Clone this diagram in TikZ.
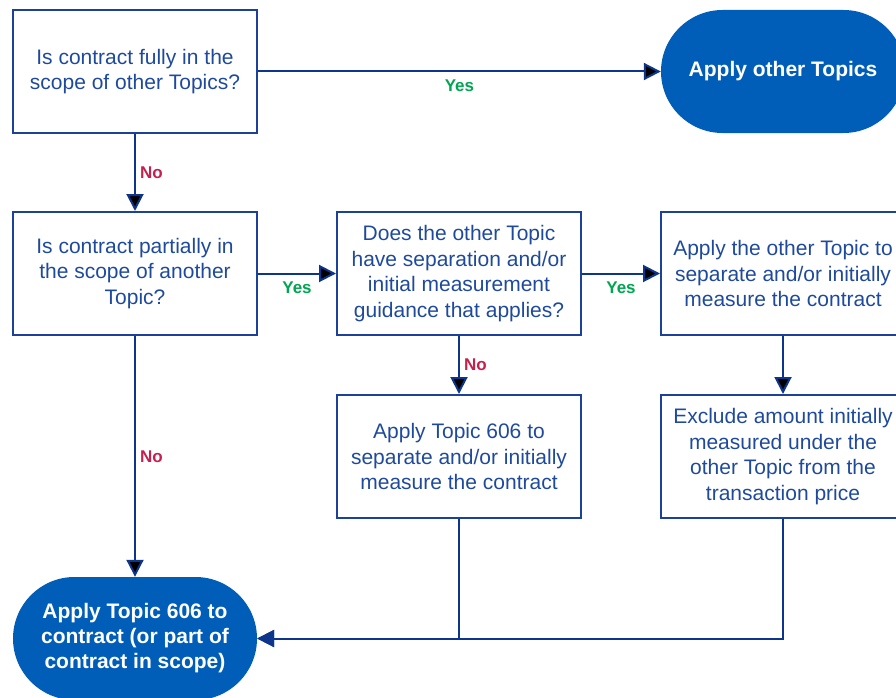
\documentclass[tikz,border=0pt]{standalone}
\usepackage{fontspec}
\setmainfont{Liberation Sans}
\usetikzlibrary{arrows.meta}
\usepackage{xcolor}
\definecolor{kblue}{HTML}{1B4198}
\definecolor{karrow}{HTML}{0E358C}
\definecolor{ktext}{HTML}{1F4A9C}
\definecolor{kfill}{HTML}{005EB8}
\definecolor{kyes}{HTML}{00A651}
\definecolor{kno}{HTML}{C4214E}

\tikzset{
  qbox/.style={draw=kblue, line width=2pt, text=ktext, minimum width=244pt, minimum height=123pt,
    inner sep=0pt, align=center, font=\fontsize{21}{25.5}\selectfont},
  endbox/.style={fill=kfill, rounded corners=61.5pt, text=white, minimum width=244pt, minimum height=123pt,
    inner sep=0pt, align=center, font=\fontsize{21}{25}\selectfont\bfseries},
  flow/.style={draw=karrow, line width=2pt, -{Triangle[length=17pt,width=17pt]}},
  yes/.style={text=kyes, font=\fontsize{17}{20}\selectfont\bfseries, inner sep=7pt},
  no/.style={text=kno, font=\fontsize{17}{20}\selectfont\bfseries, inner sep=4pt}
}

\begin{document}
\begin{tikzpicture}[x=1pt, y=-1pt]
        \useasboundingbox (0, 0) rectangle (896, 698);
        \clip (0, 0) rectangle (896, 698);
        \node[qbox] (fully) at (135, 71.5) {Is contract fully in the\\scope of other Topics?};
        \node[endbox] (other) at (783, 71.5) {Apply other Topics};
        \node[qbox] (partly) at (135, 273.5) {Is contract partially in\\the scope of another\\Topic?};
        \node[qbox] (guide) at (459, 273.5) {Does the other Topic\\have separation and/or\\initial measurement\\guidance that applies?};
        \node[qbox] (useother) at (783, 273.5) {Apply the other Topic to\\separate and/or initially\\measure the contract};
        \node[qbox] (use606) at (459, 456.5) {Apply Topic 606 to\\separate and/or initially\\measure the contract};
        \node[qbox] (exclude) at (783, 456.5) {Exclude amount initially\\measured under the\\other Topic from the\\transaction price};
        \node[endbox] (final) at (135, 638.5) {Apply Topic 606 to\\contract (or part of\\contract in scope)};

        \path[flow]
            (fully) edge node[yes, below] {Yes} (other)
            (fully) edge node[no, right] {No} (partly)
            (partly) edge node[yes, below] {Yes} (guide)
            (guide) edge node[yes, below] {Yes} (useother)
            (guide) edge node[no, right] {No} (use606)
            (useother) edge (exclude)
            (partly) edge node[no, right] {No} (final);
        \draw[flow] (use606.south) |- (final.east);
        \draw[flow] (exclude.south) |- (final.east);

        \end{tikzpicture}
\end{document}
